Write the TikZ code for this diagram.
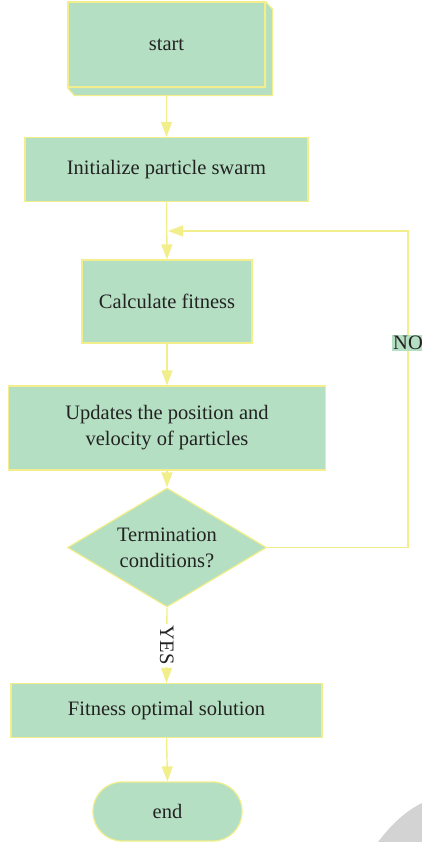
\documentclass[tikz,border=0pt]{standalone}
\usepackage{fontspec}
\setmainfont{Liberation Serif}
\usetikzlibrary{shapes.geometric,arrows.meta}
\definecolor{boxfill}{RGB}{181,223,194}
\definecolor{boxline}{RGB}{242,238,140}
\definecolor{txt}{RGB}{34,34,34}
\definecolor{curl}{RGB}{211,211,211}
\begin{document}
\begin{tikzpicture}[x=1pt,y=-1pt,
  every node/.style={font=\fontsize{20.5}{26}\selectfont, text=txt},
  proc/.style={draw=boxline, fill=boxfill, line width=1.2pt, inner sep=0pt, align=center},
  arr/.style={draw=boxline, line width=1.4pt, -{Triangle[width=11pt,length=15pt]}},
  ln/.style={draw=boxline, line width=1.2pt}]
\useasboundingbox (0,0) rectangle (422,842);
\fill[curl] (378,842) .. controls (394,821) and (408,810) .. (422,803) -- (422,842) -- cycle;

% start (3D box)
\node[proc, minimum width=197, minimum height=85] (start) at (166.5,44.5) {start};
\draw[ln, fill=boxfill, line join=round] (start.south west) -- ++(7,8) -- ([xshift=7pt,yshift=-8pt]start.south east) -- ([xshift=7pt,yshift=-8pt]start.north east) -- (start.north east) -- (start.south east) -- cycle;
\coordinate (startb) at ([yshift=-8pt]start.south);

\node[proc, minimum width=283, minimum height=64] (init) at (166.5,169.5) {Initialize particle swarm};
\node[proc, minimum width=170, minimum height=83] (calc) at (167,301.5) {Calculate fitness};
\node[proc, minimum width=317, minimum height=84] (upd) at (167,428) {Updates the position and\\velocity of particles};
\node[proc, shape=diamond, aspect=1.67, minimum width=199, minimum height=119] (dia) at (167,547.5) {Termination\\conditions?};
\node[proc, minimum width=311, minimum height=54] (opt) at (166.5,710.5) {Fitness optimal solution};
\node[proc, minimum width=149, minimum height=59, rounded corners=29pt] (end) at (167.5,811.5) {end};

\coordinate (loopR) at (408,231);
\coordinate (jn) at (168,231);

\draw[arr] (startb) -- (init.north);
\draw[arr] (init.south) -- (calc.north);
\draw[arr] (calc.south) -- (upd.north);
\draw[arr] (upd.south) -- (dia.north);
\draw[arr] (dia.east) -| (loopR) -- (jn);
\node[fill=boxfill, inner sep=1.5pt] (no) at (408,343) {NO};
\draw[arr] (dia.south) -- node[fill=white, rotate=-90, inner sep=2pt] (yes) {YES} (opt.north);
\draw[arr] (opt.south) -- (end.north);
\end{tikzpicture}
\end{document}
